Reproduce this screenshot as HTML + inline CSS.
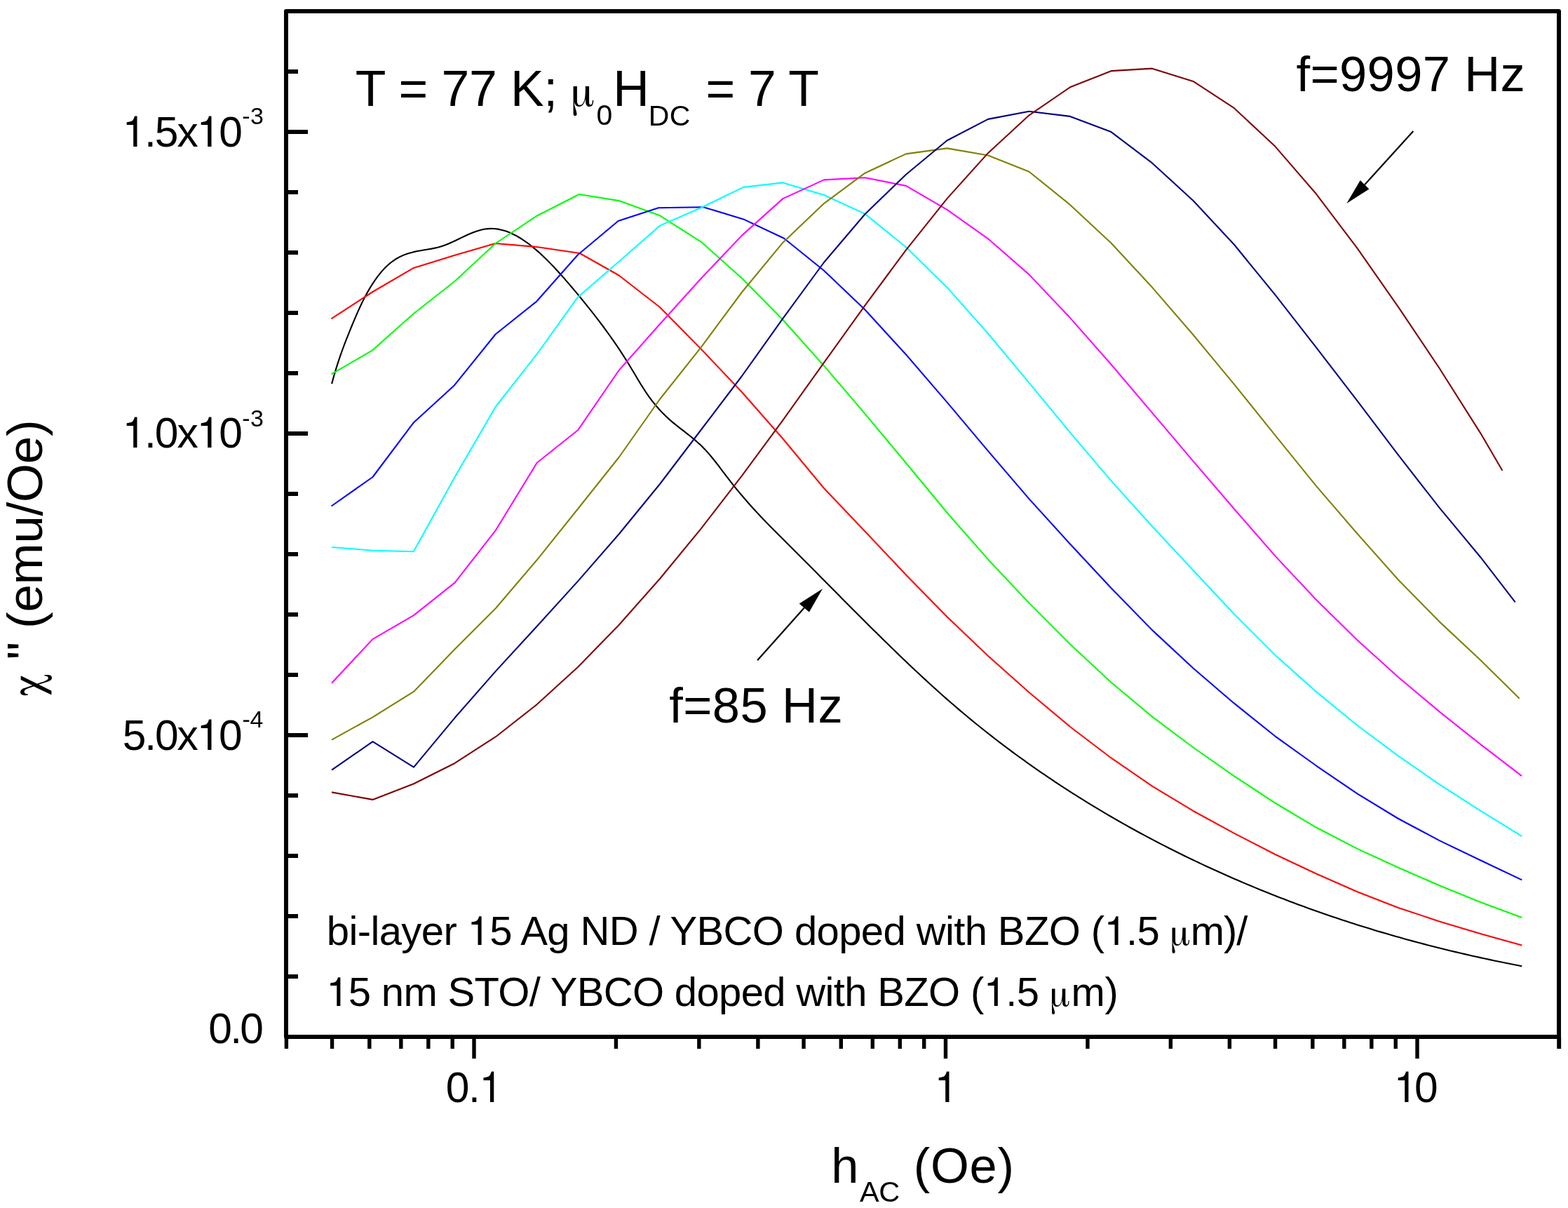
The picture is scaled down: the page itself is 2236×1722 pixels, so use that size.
<!DOCTYPE html>
<html><head><meta charset="utf-8"><title>chi vs h_AC</title>
<style>html,body{margin:0;padding:0;background:#fff;overflow:hidden;}svg{display:block;}text{fill:#000;white-space:pre;}.sans{font-family:"Liberation Sans", Arial, sans-serif;}.serif{font-family:FreeSerif, "Liberation Serif", "DejaVu Serif", serif;}.one{font-family:FreeSans,"Liberation Sans",Arial,sans-serif;}</style></head><body>
<svg width="2236" height="1722" viewBox="0 0 2236 1722">
<rect width="2236" height="1722" fill="#fff"/>
<g fill="none" stroke-width="2.1" stroke-linejoin="round" stroke-linecap="butt">
<path d="M473.1 547.11 L475.1 539.76 L477.1 532.76 L479.1 526.08 L481.1 519.68 L483.1 513.55 L485.1 507.66 L487.1 501.98 L489.1 496.49 L491.1 491.16 L493.1 485.96 L495.1 480.88 L497.1 475.87 L499.1 470.92 L501.1 466.02 L503.1 461.17 L505.1 456.39 L507.1 451.69 L509.1 447.08 L511.1 442.58 L513.1 438.2 L515.1 433.96 L517.1 429.85 L519.1 425.88 L521.1 422.05 L523.1 418.35 L525.1 414.78 L527.1 411.35 L529.1 408.04 L531.1 404.87 L533.1 401.82 L535.1 398.89 L537.1 396.09 L539.1 393.41 L541.1 390.85 L543.1 388.41 L545.1 386.09 L547.1 383.88 L549.1 381.79 L551.1 379.81 L553.1 377.94 L555.1 376.18 L557.1 374.53 L559.1 372.98 L560 372.31 L565 368.98 L570 366.19 L575 363.87 L580 361.98 L585 360.42 L590 359.15 L595 358.09 L600 357.17 L605 356.33 L610 355.51 L615 354.63 L620 353.63 L625 352.43 L630 350.99 L635 349.24 L640 347.23 L645 345.03 L650 342.69 L655 340.29 L660 337.87 L665 335.52 L670 333.28 L675 331.22 L680 329.42 L685 327.92 L690 326.79 L695 326.1 L700 325.85 L705 326.04 L710 326.65 L715 327.66 L720 329.06 L725 330.84 L730 332.97 L735 335.44 L740 338.24 L745 341.36 L750 344.76 L755 348.45 L760 352.41 L765 356.61 L770 361.05 L775 365.71 L780 370.57 L785 375.62 L790 380.84 L795 386.22 L800 391.74 L805 397.39 L810 403.15 L815 409.01 L820 414.94 L825 420.94 L830 427 L835 433.13 L840 439.35 L845 445.65 L850 452.06 L855 458.59 L860 465.25 L865 472.06 L870 479.01 L875 486.14 L880 493.44 L885 500.93 L890 508.63 L895 516.54 L900 524.68 L905 533.03 L910 541.44 L915 549.68 L920 557.52 L925 564.8 L930 571.55 L935 577.78 L940 583.55 L945 588.87 L950 593.79 L955 598.35 L960 602.62 L965 606.67 L970 610.59 L975 614.44 L980 618.3 L985 622.24 L990 626.35 L995 630.69 L1000 635.35 L1005 640.39 L1010 645.88 L1015 651.8 L1020 658.03 L1025 664.48 L1030 671.06 L1035 677.67 L1040 684.22 L1045 690.6 L1050 696.82 L1055 702.88 L1060 708.78 L1065 714.55 L1070 720.2 L1075 725.72 L1080 731.14 L1085 736.47 L1090 741.72 L1095 746.89 L1100 752 L1105 757.06 L1110 762.08 L1115 767.08 L1120 772.05 L1125 777.02 L1130 782 L1135 786.99 L1140 791.99 L1145 797 L1150 802.01 L1155 807.04 L1160 812.07 L1165 817.1 L1170 822.14 L1175 827.18 L1180 832.22 L1185 837.27 L1190 842.31 L1195 847.35 L1200 852.39 L1205 857.42 L1210 862.45 L1215 867.47 L1220 872.49 L1225 877.49 L1230 882.49 L1235 887.47 L1240 892.44 L1245 897.4 L1250 902.34 L1255 907.27 L1260 912.18 L1265 917.07 L1270 921.95 L1275 926.8 L1280 931.63 L1285 936.44 L1290 941.23 L1295 945.99 L1300 950.72 L1305 955.43 L1310 960.1 L1315 964.75 L1320 969.37 L1325 973.95 L1330 978.51 L1335 983.02 L1340 987.51 L1345 991.95 L1350 996.36 L1355 1000.73 L1360 1005.06 L1365 1009.35 L1370 1013.6 L1375 1017.81 L1380 1021.98 L1385 1026.11 L1390 1030.2 L1395 1034.25 L1400 1038.27 L1405 1042.25 L1410 1046.19 L1415 1050.1 L1420 1053.97 L1425 1057.81 L1430 1061.61 L1435 1065.38 L1440 1069.11 L1445 1072.81 L1450 1076.48 L1455 1080.11 L1460 1083.72 L1465 1087.29 L1470 1090.83 L1475 1094.34 L1480 1097.82 L1485 1101.27 L1490 1104.69 L1495 1108.08 L1500 1111.44 L1505 1114.77 L1510 1118.08 L1515 1121.36 L1520 1124.61 L1525 1127.84 L1530 1131.04 L1535 1134.21 L1540 1137.36 L1545 1140.48 L1550 1143.57 L1555 1146.64 L1560 1149.68 L1565 1152.69 L1570 1155.69 L1575 1158.65 L1580 1161.59 L1585 1164.51 L1590 1167.4 L1595 1170.27 L1600 1173.11 L1605 1175.93 L1610 1178.73 L1615 1181.5 L1620 1184.25 L1625 1186.98 L1630 1189.68 L1635 1192.37 L1640 1195.03 L1645 1197.66 L1650 1200.28 L1655 1202.87 L1660 1205.44 L1665 1207.99 L1670 1210.52 L1675 1213.03 L1680 1215.52 L1685 1217.99 L1690 1220.44 L1695 1222.86 L1700 1225.27 L1705 1227.66 L1710 1230.03 L1715 1232.37 L1720 1234.7 L1725 1237.01 L1730 1239.31 L1735 1241.58 L1740 1243.83 L1745 1246.07 L1750 1248.29 L1755 1250.49 L1760 1252.67 L1765 1254.83 L1770 1256.98 L1775 1259.1 L1780 1261.21 L1785 1263.3 L1790 1265.38 L1795 1267.43 L1800 1269.47 L1805 1271.49 L1810 1273.5 L1815 1275.48 L1820 1277.45 L1825 1279.4 L1830 1281.33 L1835 1283.25 L1840 1285.15 L1845 1287.04 L1850 1288.9 L1855 1290.75 L1860 1292.58 L1865 1294.4 L1870 1296.2 L1875 1297.99 L1880 1299.75 L1885 1301.5 L1890 1303.24 L1895 1304.96 L1900 1306.66 L1905 1308.35 L1910 1310.02 L1915 1311.68 L1920 1313.32 L1925 1314.94 L1930 1316.55 L1935 1318.14 L1940 1319.72 L1945 1321.29 L1950 1322.83 L1955 1324.37 L1960 1325.89 L1965 1327.39 L1970 1328.88 L1975 1330.35 L1980 1331.81 L1985 1333.26 L1990 1334.69 L1995 1336.1 L2000 1337.5 L2005 1338.89 L2010 1340.26 L2015 1341.62 L2020 1342.97 L2025 1344.3 L2030 1345.62 L2035 1346.92 L2040 1348.21 L2045 1349.49 L2050 1350.75 L2055 1352 L2060 1353.24 L2065 1354.46 L2070 1355.67 L2075 1356.87 L2080 1358.05 L2085 1359.22 L2090 1360.38 L2095 1361.53 L2100 1362.66 L2105 1363.78 L2110 1364.89 L2115 1365.98 L2120 1367.07 L2125 1368.14 L2130 1369.2 L2135 1370.24 L2140 1371.28 L2145 1372.3 L2150 1373.31 L2155 1374.31 L2160 1375.3 L2165 1376.27 L2170 1377.24 L2170.3 1377.3" stroke="#000000"/>
<path d="M472.4 454.3 L531.5 416 L589.9 381.9 L648 364 L706.5 347 L767.2 352.2 L826.7 361 L882.5 392.5 L941 438 L999.5 497.3 L1058 559 L1116.5 625.5 L1175 696 L1233.5 757.5 L1292 819.44 L1350.5 879.27 L1409 934.95 L1467.5 987.02 L1526 1035.97 L1584.5 1080.48 L1643 1120.53 L1701.5 1155.97 L1760 1187.81 L1818.5 1217.96 L1877 1245.48 L1935.5 1271.3 L1994 1293.98 L2052.5 1313.4 L2111 1330.91 L2170.3 1347.56" stroke="#ff0000"/>
<path d="M472.4 533.4 L531.1 499.4 L589.9 447 L648.5 401 L706.6 347 L765.5 307.7 L825.8 277 L882.5 286.1 L941 307.3 L1001 345.7 L1058 396.83 L1116.5 456.06 L1175 521.44 L1233.5 589.84 L1292 659.97 L1350.5 730.78 L1409 797.43 L1467.5 859.63 L1526 918.27 L1584.5 972.72 L1643 1021.61 L1701.5 1065.49 L1760 1106.28 L1818.5 1144.76 L1877 1179.54 L1935.5 1209.84 L1994 1236.77 L2052.5 1262.17 L2111 1285.94 L2170.3 1308.09" stroke="#00ff00"/>
<path d="M472.5 721.5 L531.5 680 L590 602.2 L648 549.2 L706.6 476.5 L764.9 430 L824 363.3 L881.6 315 L939 296.2 L1003 295.2 L1060 312.4 L1118 339.7 L1175 385.75 L1233.5 441.5 L1292 505.43 L1350.5 573.4 L1409 642.86 L1467.5 711.13 L1526 775.54 L1584.5 838.21 L1643 898.14 L1701.5 952.49 L1760 1002.69 L1818.5 1049.55 L1877 1091.51 L1935.5 1131.28 L1994 1166.99 L2052.5 1198.08 L2111 1226.21 L2170.3 1254.37" stroke="#0000ff"/>
<path d="M473 780 L531.5 784.7 L589.8 786.3 L648 681 L706.6 580 L765.5 505 L823.8 423.9 L882.5 373 L941.1 321.6 L999.5 296.2 L1060 266.9 L1116.5 260.4 L1175 278 L1233.5 304.9 L1292 352.33 L1350.5 409.66 L1409 475.52 L1467.5 545.65 L1526 616.61 L1584.5 685.4 L1643 750.23 L1701.5 813.06 L1760 875.58 L1818.5 933.99 L1877 986.1 L1935.5 1034.03 L1994 1077.62 L2052.5 1118.11 L2111 1155.68 L2170.3 1192.2" stroke="#00ffff"/>
<path d="M473 973.8 L531.5 911.1 L590 877.1 L648.6 830.6 L707 755.8 L765.6 659.8 L824 613.3 L882.5 528 L941 462 L999.5 397.3 L1058 335.6 L1116.5 283.1 L1175 256.4 L1233.5 253.2 L1292 264.9 L1350.5 298.8 L1409 340.27 L1467.5 391.36 L1526 453.14 L1584.5 519.54 L1643 588.36 L1701.5 657.39 L1760 725.55 L1818.5 792.63 L1877 854.94 L1935.5 912.57 L1994 965.27 L2052.5 1014.42 L2111 1060.86 L2170 1106.09" stroke="#ff00ff"/>
<path d="M473 1054.6 L531.5 1022.3 L590 985.9 L648.5 925.5 L707 867 L765.6 798.3 L824 725.5 L882.5 652 L941 569 L999.5 495.3 L1058 416.5 L1116.5 345.7 L1175 290.1 L1233.5 246.7 L1292 219.4 L1350.5 211.4 L1409 221.5 L1467.5 244.7 L1526 291.95 L1584.5 346.43 L1643 409.57 L1701.5 477.25 L1760 547.94 L1818.5 620.54 L1877 692.84 L1935.5 760.7 L1994 826.53 L2052.5 886.11 L2111 940.82 L2166.7 995.84" stroke="#808000"/>
<path d="M473 1097.7 L531.5 1057.2 L590 1093.6 L648.5 1023.3 L707 956.6 L765.5 893 L824 828.6 L882.5 761.5 L941 690 L999.5 613 L1058 536 L1116.5 453.9 L1175 374 L1233.5 305.3 L1292 248.7 L1350.5 200.3 L1409 169.9 L1467.5 158.8 L1526 165.9 L1584.5 188.1 L1643 232.4 L1701.5 285.97 L1760 348.73 L1818.5 420.44 L1877 495.41 L1935.5 571.33 L1994 648.73 L2052.5 723.6 L2111 793.97 L2160.7 858.31" stroke="#000080"/>
<path d="M473 1129.4 L531.5 1139.9 L590 1117.3 L648.5 1087.97 L707 1050.23 L765.5 1004.33 L824 951 L882.5 890.98 L941 825.01 L999.5 753.83 L1058 678.18 L1116.5 598.8 L1175 516.98 L1233.5 435.27 L1292 356.41 L1350.5 283.13 L1409 218.17 L1467.5 164.28 L1526 124.32 L1584.5 101.16 L1643 97.67 L1701.5 115.99 L1760 154.18 L1818.5 208.82 L1877 276.53 L1935.5 353.92 L1994 437.65 L2052.5 524.76 L2111 617.07 L2142.4 670.7" stroke="#800000"/>
</g>
<g stroke="#000" stroke-width="5.4"><line x1="408.39" y1="1478" x2="408.39" y2="1495"/><line x1="473.56" y1="1478" x2="473.56" y2="1495"/><line x1="526.81" y1="1478" x2="526.81" y2="1495"/><line x1="571.83" y1="1478" x2="571.83" y2="1495"/><line x1="610.83" y1="1478" x2="610.83" y2="1495"/><line x1="645.23" y1="1478" x2="645.23" y2="1495"/><line x1="676" y1="1478" x2="676" y2="1509"/><line x1="878.44" y1="1478" x2="878.44" y2="1495"/><line x1="996.86" y1="1478" x2="996.86" y2="1495"/><line x1="1080.89" y1="1478" x2="1080.89" y2="1495"/><line x1="1146.06" y1="1478" x2="1146.06" y2="1495"/><line x1="1199.31" y1="1478" x2="1199.31" y2="1495"/><line x1="1244.33" y1="1478" x2="1244.33" y2="1495"/><line x1="1283.33" y1="1478" x2="1283.33" y2="1495"/><line x1="1317.73" y1="1478" x2="1317.73" y2="1495"/><line x1="1348.5" y1="1478" x2="1348.5" y2="1509"/><line x1="1550.94" y1="1478" x2="1550.94" y2="1495"/><line x1="1669.36" y1="1478" x2="1669.36" y2="1495"/><line x1="1753.39" y1="1478" x2="1753.39" y2="1495"/><line x1="1818.56" y1="1478" x2="1818.56" y2="1495"/><line x1="1871.81" y1="1478" x2="1871.81" y2="1495"/><line x1="1916.83" y1="1478" x2="1916.83" y2="1495"/><line x1="1955.83" y1="1478" x2="1955.83" y2="1495"/><line x1="1990.23" y1="1478" x2="1990.23" y2="1495"/><line x1="2021" y1="1478" x2="2021" y2="1509"/><line x1="2223.44" y1="1478" x2="2223.44" y2="1495"/><line x1="2223" y1="1478" x2="2223" y2="1495"/></g>
<g stroke="#000" stroke-width="6"><line x1="408" y1="1478" x2="439" y2="1478"/><line x1="408" y1="1392" x2="425" y2="1392"/><line x1="408" y1="1306" x2="425" y2="1306"/><line x1="408" y1="1220" x2="425" y2="1220"/><line x1="408" y1="1134" x2="425" y2="1134"/><line x1="408" y1="1048" x2="439" y2="1048"/><line x1="408" y1="962" x2="425" y2="962"/><line x1="408" y1="876" x2="425" y2="876"/><line x1="408" y1="790" x2="425" y2="790"/><line x1="408" y1="704" x2="425" y2="704"/><line x1="408" y1="618" x2="439" y2="618"/><line x1="408" y1="532" x2="425" y2="532"/><line x1="408" y1="446" x2="425" y2="446"/><line x1="408" y1="360" x2="425" y2="360"/><line x1="408" y1="274" x2="425" y2="274"/><line x1="408" y1="188" x2="439" y2="188"/><line x1="408" y1="102" x2="425" y2="102"/><line x1="408" y1="16" x2="425" y2="16"/></g>
<rect x="408" y="16" width="1815" height="1462" fill="none" stroke="#000" stroke-width="6" stroke-linejoin="round"/>
<line x1="1080.1" y1="941.3" x2="1146.8" y2="866.45" stroke="#000" stroke-width="2.2"/>
<polygon points="1173,839.2 1139.7,860.4 1153.9,872.5" fill="#000"/>
<line x1="2015.3" y1="187.1" x2="1946.1" y2="263.2" stroke="#000" stroke-width="2.2"/>
<polygon points="1920.3,290.1 1939.8,256.9 1952.4,269.5" fill="#000"/>
<g>
<text id="t1" class="sans" font-size="71.5" textLength="288.43" lengthAdjust="spacing" x="506.8" y="151">T = 77 K;</text>
<text id="t2" class="serif" font-size="63" x="813.4" y="151">&#956;</text>
<text id="t3" class="sans" font-size="41" x="850.6" y="178.1">0</text>
<text id="t4" class="sans" font-size="71.5" x="874.2" y="151">H</text>
<text id="t5" class="sans" font-size="41" textLength="59.52" lengthAdjust="spacing" x="924.8" y="178.6">DC</text>
<text id="t6" class="sans" font-size="71.5" textLength="161.64" lengthAdjust="spacing" x="1006.4" y="151">= 7 T</text>
<text id="a1" class="sans" font-size="70.5" textLength="326.14" lengthAdjust="spacing" x="1848.6" y="129.8">f=9997 Hz</text>
<text id="a2" class="sans" font-size="70.5" textLength="247.44" lengthAdjust="spacing" x="954.2" y="1030.2">f=85 Hz</text>
<text id="n1a" class="sans" font-size="58" textLength="1188.07" lengthAdjust="spacing" x="465.8" y="1347.2">bi-layer <tspan class="one">1</tspan>5 Ag ND / YBCO doped with BZO (<tspan class="one">1</tspan>.5</text>
<text id="n1b" class="serif" font-size="54" x="1668" y="1347.2">&#956;</text>
<text id="n1c" class="sans" font-size="58" textLength="81.65" lengthAdjust="spacing" x="1697.8" y="1347.2">m)/</text>
<text id="n2a" class="sans" font-size="58" textLength="1016.79" lengthAdjust="spacing" x="465.2" y="1433.9"><tspan class="one">1</tspan>5 nm STO/ YBCO doped with BZO (<tspan class="one">1</tspan>.5</text>
<text id="n2b" class="serif" font-size="54" x="1496.6" y="1433.9">&#956;</text>
<text id="n2c" class="sans" font-size="58" textLength="67.34" lengthAdjust="spacing" x="1527.4" y="1433.9">m)</text>
<text id="y1" class="sans" font-size="60.5" textLength="171.46" lengthAdjust="spacing" x="174.4" y="208.9"><tspan class="one">1</tspan>.5x<tspan class="one">1</tspan>0</text>
<text id="y1s" class="sans" font-size="34" textLength="30.73" lengthAdjust="spacing" x="345.2" y="176.8">-3</text>
<text id="y2" class="sans" font-size="60.5" textLength="171.46" lengthAdjust="spacing" x="174.4" y="637.9"><tspan class="one">1</tspan>.0x<tspan class="one">1</tspan>0</text>
<text id="y2s" class="sans" font-size="34" textLength="30.73" lengthAdjust="spacing" x="345.2" y="607.8">-3</text>
<text id="y3" class="sans" font-size="60.5" textLength="170.76" lengthAdjust="spacing" x="174.8" y="1068.6">5.0x<tspan class="one">1</tspan>0</text>
<text id="y3s" class="sans" font-size="34" textLength="29.93" lengthAdjust="spacing" x="345.4" y="1037.4">-4</text>
<text id="y4" class="sans" font-size="60.5" textLength="78.71" lengthAdjust="spacing" x="297.2" y="1487.1">0.0</text>
<text id="x1" class="sans" font-size="60.5" textLength="81.01" lengthAdjust="spacing" x="635.8" y="1571.3">0.<tspan class="one">1</tspan></text>
<text id="x2" class="sans" font-size="60.5" x="1332.5" y="1571.3"><tspan class="one">1</tspan></text>
<text id="x3" class="sans" font-size="60.5" textLength="63" lengthAdjust="spacing" x="1987.6" y="1571.3"><tspan class="one">1</tspan>0</text>
<text id="xl1" class="sans" font-size="70.5" x="1185.2" y="1685.7">h</text>
<text id="xl2" class="sans" font-size="41.5" textLength="57.16" lengthAdjust="spacing" x="1226" y="1712.6">AC</text>
<text id="xl3" class="sans" font-size="70.5" textLength="143.2" lengthAdjust="spacing" x="1302.8" y="1685.7">(Oe)</text>
<text id="yl1" class="serif" font-size="66" x="-1.7" y="0" transform="translate(60 990.9) rotate(-90)">&#967;</text>
<text id="yl2" class="sans" font-size="71" textLength="341.88" lengthAdjust="spacing" x="-2.4" y="0" transform="translate(60 937.8) rotate(-90)">" (emu/Oe)</text>
</g>
</svg></body></html>
